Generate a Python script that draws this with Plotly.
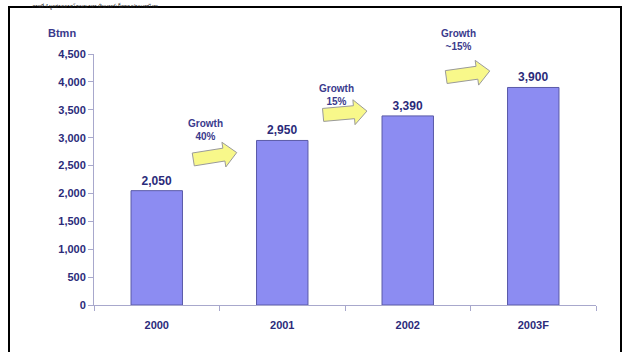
import math
import plotly.graph_objects as go

# ---- data ----
years = ["2000", "2001", "2002", "2003F"]
values = [2050, 2950, 3390, 3900]
value_labels = ["2,050", "2,950", "3,390", "3,900"]
growth_labels = ["Growth<br>40%", "Growth<br>15%", "Growth<br>~15%"]
y_ticks = [0, 500, 1000, 1500, 2000, 2500, 3000, 3500, 4000, 4500]
y_ticktext = ["0", "500", "1,000", "1,500", "2,000", "2,500", "3,000", "3,500", "4,000", "4,500"]

# ---- layout geometry (pixels) ----
W, H = 626, 352
L, R, T, B = 94, 30, 54, 47
PW, PH = W - L - R, H - T - B

def px(x):
    return (x - L) / PW

def py(y):
    return (H - B - y) / PH

NAVY = "#2b2b7a"
FONT = "Liberation Sans, Arial, sans-serif"

fig = go.Figure()
fig.add_trace(go.Bar(
    x=years, y=values, width=0.41,
    marker=dict(color="#8c8cf2", line=dict(color="#5a5aa8", width=1)),
    text=value_labels, textposition="outside", cliponaxis=False,
    textfont=dict(family=FONT, size=12, color=NAVY),
    texttemplate="<b>%{text}</b>",
    hoverinfo="skip",
))

shapes = []
annotations = []

# outer black frame
shapes.append(dict(type="rect", xref="paper", yref="paper",
                   x0=px(9), x1=px(621), y0=py(372), y1=py(7),
                   line=dict(color="black", width=2), fillcolor="rgba(0,0,0,0)", layer="above"))

# block arrows (decoration): center (pixels), tilt deg
arrows = [((215, 156), 9), ((345, 113), 5), ((468, 74), 8)]
texts = [((205, 130)), ((336, 95)), ((458, 40))]

def arrow_path(cx, cy, ang):
    Lh = 22.0   # half length
    bh = 6.5    # body half height
    hh = 12.5   # head half height
    hl = 13.0   # head length
    pts = [(-Lh, -bh), (Lh - hl, -bh), (Lh - hl, -hh), (Lh, 0), (Lh - hl, hh), (Lh - hl, bh), (-Lh, bh)]
    a = math.radians(ang)
    out = []
    for (x, y) in pts:
        rx = cx + x * math.cos(a) + y * math.sin(a)
        ry = cy - x * math.sin(a) + y * math.cos(a)
        out.append((px(rx), py(ry)))
    d = "M " + " L ".join(f"{u:.4f},{v:.4f}" for u, v in out) + " Z"
    return d

for ((cx, cy), ang) in arrows:
    shapes.append(dict(type="path", xref="paper", yref="paper", path=arrow_path(cx, cy, ang),
                       fillcolor="#f8f88a", line=dict(color="#9a9a9a", width=1), layer="above"))

for (tx, ty), lab in zip(texts, growth_labels):
    annotations.append(dict(x=px(tx), y=py(ty), xref="paper", yref="paper", text="<b>" + lab + "</b>",
                            showarrow=False, font=dict(family=FONT, size=10, color="#3a3a8c"),
                            align="center", xanchor="center", yanchor="middle"))

# axis unit label
annotations.append(dict(x=px(62), y=py(33), xref="paper", yref="paper", text="<b>Btmn</b>",
                        showarrow=False, font=dict(family=FONT, size=11, color="#3a3a8c"),
                        xanchor="center", yanchor="middle"))

# caption line at the very top
annotations.append(dict(x=px(30), y=py(0), xref="paper", yref="paper",
                        text="ภาพที่ 4 มูลค่าตลาดโฆษณาทางอินเทอร์เน็ตของประเทศไทย",
                        showarrow=False, font=dict(family="Noto Sans, sans-serif", size=5, color="#222222"),
                        xanchor="left", yanchor="top"))

fig.update_layout(
    width=W, height=H,
    margin=dict(l=L, r=R, t=T, b=B),
    paper_bgcolor="white", plot_bgcolor="white",
    showlegend=False,
    shapes=shapes, annotations=annotations,
    xaxis=dict(
        showline=True, linecolor="#a8a8cc", linewidth=1,
        ticks="outside", ticklen=5, tickcolor="#a8a8cc", tickson="boundaries",
        tickfont=dict(family=FONT, size=11, color=NAVY),
        tickprefix="<b>", ticksuffix="</b>",
        ticklabelstandoff=10,
        showgrid=False, zeroline=False,
    ),
    yaxis=dict(
        range=[0, 4500], tickvals=y_ticks, ticktext=["<b>" + t + "</b>" for t in y_ticktext],
        showline=True, linecolor="#a8a8cc", linewidth=1,
        ticks="outside", ticklen=5, tickcolor="#a8a8cc",
        tickfont=dict(family=FONT, size=11, color=NAVY),
        showgrid=False, zeroline=False,
    ),
)

fig.write_html("out.html")
